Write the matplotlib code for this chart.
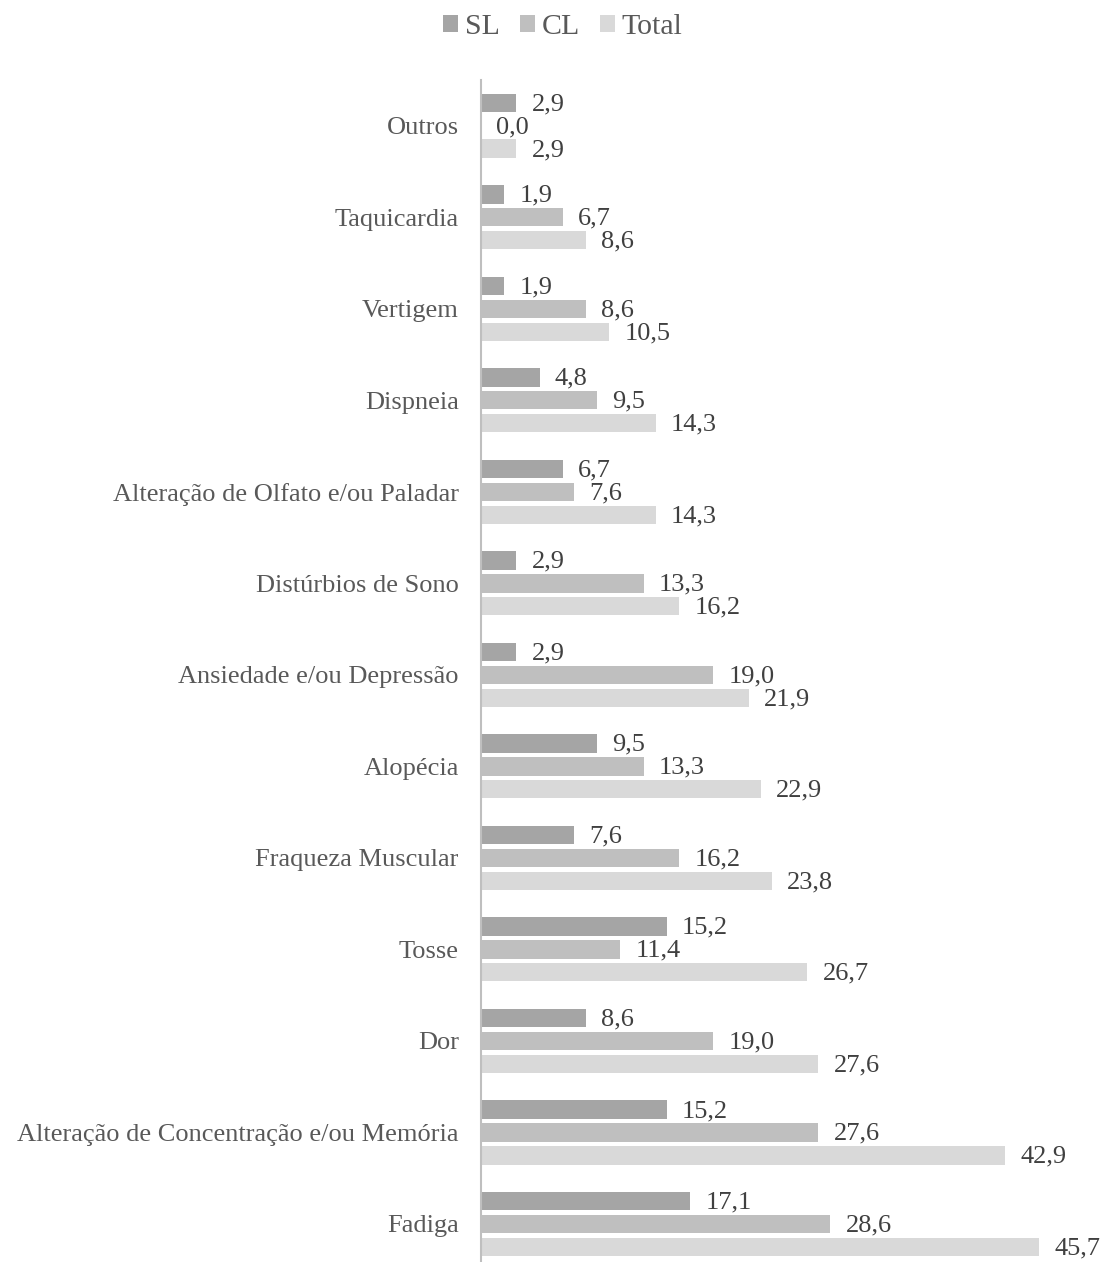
import matplotlib.pyplot as plt
import numpy as np

categories = ['Outros', 'Taquicardia', 'Vertigem', 'Dispneia',
              'Alteração de Olfato e/ou Paladar', 'Distúrbios de Sono',
              'Ansiedade e/ou Depressão', 'Alopécia', 'Fraqueza Muscular',
              'Tosse', 'Dor', 'Alteração de Concentração e/ou Memória', 'Fadiga']
sl = [2.9, 1.9, 1.9, 4.8, 6.7, 2.9, 2.9, 9.5, 7.6, 15.2, 8.6, 15.2, 17.1]
cl = [0.0, 6.7, 8.6, 9.5, 7.6, 13.3, 19.0, 13.3, 16.2, 11.4, 19.0, 27.6, 28.6]
total = [2.9, 8.6, 10.5, 14.3, 14.3, 16.2, 21.9, 22.9, 23.8, 26.7, 27.6, 42.9, 45.7]

series = [('SL', sl, '#a5a5a5', -0.25),
          ('CL', cl, '#bfbfbf', 0.0),
          ('Total', total, '#d9d9d9', 0.25)]

plt.rcParams['font.family'] = ['Liberation Serif', 'DejaVu Serif']
text_color = '#595959'

fig = plt.figure(figsize=(11.02, 12.62), dpi=100)
W, H = 1102, 1262
ax = fig.add_axes([481 / W, 0, (1092 - 481) / W, (1262 - 80) / H])

y = np.arange(len(categories))
for name, vals, color, off in series:
    bars = ax.barh(y + off, vals, height=0.2, color=color, label=name)
    for b, v in zip(bars, vals):
        ax.annotate(f'{v:.1f}'.replace('.', ','),
                    (b.get_width(), b.get_y() + b.get_height() / 2),
                    xytext=(11, -1), textcoords='offset points',
                    va='center', ha='left', fontsize=19, color='#404040')

ax.set_xlim(0, 50)
ax.set_ylim(12 + (1262 - 1224) / 91.5, -0.5)
ax.set_yticks(y)
ax.set_yticklabels(categories, fontsize=19, color=text_color)
ax.tick_params(axis='y', length=0, pad=16)
ax.set_xticks([])
for s in ['top', 'right', 'bottom']:
    ax.spines[s].set_visible(False)
ax.spines['left'].set_color('#bfbfbf')
ax.spines['left'].set_linewidth(1.5)

handles, labels = ax.get_legend_handles_labels()
fig.legend(handles, labels, loc='center',
           bbox_to_anchor=(0.5 + 12 / W, 1 - 27 / H),
           ncol=3, frameon=False, fontsize=21.5, handlelength=0.5,
           handleheight=0.5, handletextpad=0.23, columnspacing=0.67,
           labelcolor=text_color)

fig.savefig('out.png', dpi=100)
